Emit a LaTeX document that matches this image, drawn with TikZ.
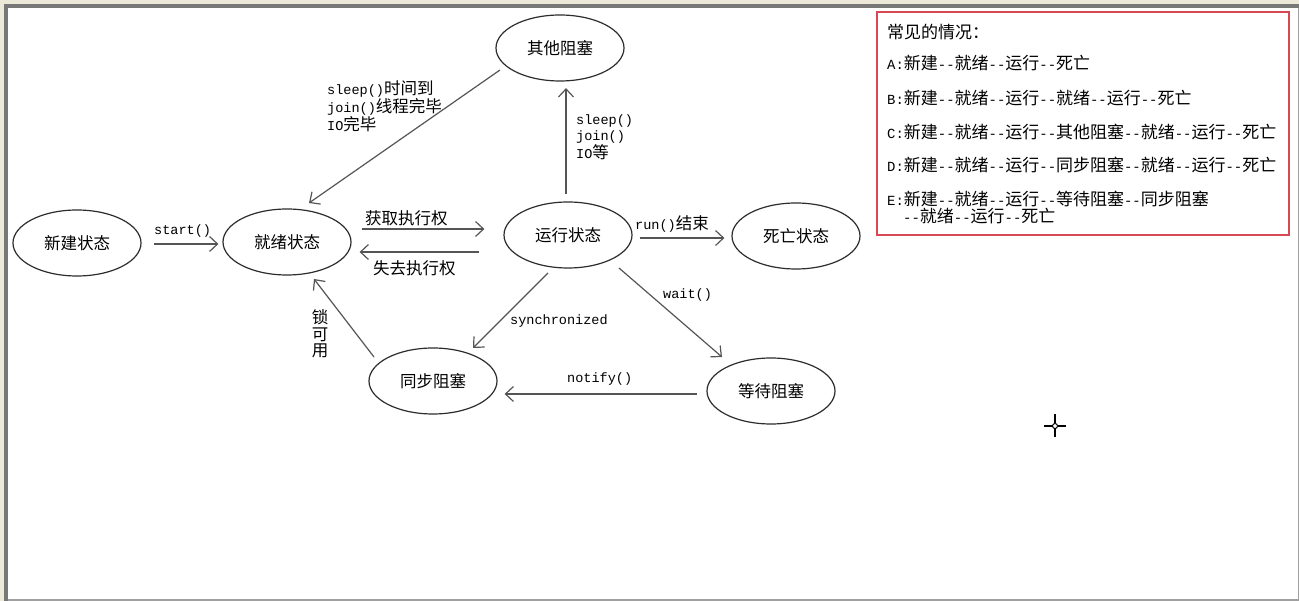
\documentclass[tikz,border=0pt]{standalone}
\usepackage{fontspec}
\setmainfont{Liberation Mono}[Scale=0.82]
\newfontfamily\zhf{Noto Sans CJK SC}
\newcommand\zh[1]{{\zhf #1}}
\newcommand\dsh{-{}-}
\usetikzlibrary{shapes.geometric,arrows.meta,calc}
\definecolor{lineg}{RGB}{85,85,85}
\definecolor{ellg}{RGB}{45,45,45}
\definecolor{boxred}{RGB}{214,72,82}
\definecolor{frameg}{RGB}{120,120,120}
\definecolor{framel}{RGB}{160,160,160}
\definecolor{beigec}{RGB}{236,233,216}
\begin{document}
\begin{tikzpicture}[x=1pt,y=-1pt,
  stnode/.style={ellipse, draw=ellg, line width=1.2pt, minimum width=128pt, minimum height=66pt, inner sep=0pt, font=\fontsize{16.5}{18}\selectfont\zhf},
  arr/.style={draw=lineg, line width=1.2pt, -{Straight Barb[length=8pt,width=15pt,line width=1.2pt]}},
  lbl/.style={inner sep=0pt, font=\fontsize{16.5}{16.5}\selectfont, align=left},
  boxtxt/.style={inner sep=0pt, anchor=west, font=\fontsize{17}{17}\selectfont}
]
\useasboundingbox (0,0) rectangle (1299,601);
% window frame
\fill[white] (0,0) rectangle (1299,601);
\fill[beigec] (0,0) rectangle (1299,4.5);
\fill[beigec] (0,0) rectangle (3.5,601);
\fill[frameg] (3.5,4.5) rectangle (1299,8.5);
\fill[frameg] (3.5,4.5) rectangle (7.5,601);
\fill[framel] (1297.5,8.5) rectangle (1299,601);
\fill[framel] (7.5,598.5) rectangle (1299,601);

% states
\node[stnode] (xj) at (77,243) {新建状态};
\node[stnode] (jx) at (287,242) {就绪状态};
\node[stnode] (yx) at (568,235) {运行状态};
\node[stnode] (qt) at (560,48) {其他阻塞};
\node[stnode] (sw) at (796,236) {死亡状态};
\node[stnode] (tb) at (433,381) {同步阻塞};
\node[stnode] (dd) at (771,391) {等待阻塞};

% connectors
\draw[arr] ($(xj.east)+(12,1)$) -- ($(jx.west)+(-4,2)$);
\draw[arr] ($(jx.east)+(10,-13)$) -- ($(yx.west)+(-19,-6)$);
\draw[arr] ($(yx.west)+(-24,17)$) -- ($(jx.east)+(8,10)$);
\draw[arr] ($(yx.north)+(-2,-7)$) -- ($(qt.south)+(6,6.5)$);
\draw[arr] ($(qt.center)+(-60,22)$) -- ($(jx.center)+(22,-39)$);
\draw[arr] ($(yx.east)+(7,3)$) -- ($(sw.west)+(-7,2)$);
\draw[arr] ($(yx.center)+(-20,38)$) -- ($(tb.center)+(40,-33)$);
\draw[arr] ($(yx.center)+(51,33)$) -- ($(dd.center)+(-49,-34)$);
\draw[arr] ($(dd.west)+(-9,3)$) -- ($(tb.east)+(7,13)$);
\draw[arr] ($(tb.center)+(-59,-24)$) -- ($(jx.center)+(27,37)$);

% labels
\node[lbl, anchor=west] (lstart) at (154,231) {start()};
\node[lbl, anchor=west] (lget) at (365,218) {\zh{获取执行权}};
\node[lbl, anchor=west] (llose) at (373,268) {\zh{失去执行权}};
\node[lbl, anchor=north west] (lback) at (327,81) {sleep()\zh{时间到}\\join()\zh{线程完毕}\\IO\zh{完毕}};
\node[lbl, anchor=north west] (lsleep) at (576,114) {sleep()\\join()\\IO\zh{等}};
\node[lbl, anchor=west] (lrun) at (635,224) {run()\zh{结束}};
\node[lbl, anchor=west] (lsync) at (510,321) {synchronized};
\node[lbl, anchor=west] (lwait) at (663,295) {wait()};
\node[lbl, anchor=west] (lnotify) at (567,379) {notify()};
\node[lbl, align=center, font=\fontsize{16.5}{16.5}\selectfont\zhf] (llock) at (320,334) {锁\\可\\用};

% summary box
\node[draw=boxred, line width=1.3pt, minimum width=412pt, minimum height=223pt, inner sep=0pt] (box) at (1083,123.5) {};
\node[boxtxt] (t0) at (887,32) {\zh{常见的情况：}};
\node[boxtxt] (t1) at (887,63) {A:\zh{新建}\dsh\zh{就绪}\dsh\zh{运行}\dsh\zh{死亡}};
\node[boxtxt] (t2) at (887,98) {B:\zh{新建}\dsh\zh{就绪}\dsh\zh{运行}\dsh\zh{就绪}\dsh\zh{运行}\dsh\zh{死亡}};
\node[boxtxt] (t3) at (887,132) {C:\zh{新建}\dsh\zh{就绪}\dsh\zh{运行}\dsh\zh{其他阻塞}\dsh\zh{就绪}\dsh\zh{运行}\dsh\zh{死亡}};
\node[boxtxt] (t4) at (887,165) {D:\zh{新建}\dsh\zh{就绪}\dsh\zh{运行}\dsh\zh{同步阻塞}\dsh\zh{就绪}\dsh\zh{运行}\dsh\zh{死亡}};
\node[boxtxt] (t5) at (887,199) {E:\zh{新建}\dsh\zh{就绪}\dsh\zh{运行}\dsh\zh{等待阻塞}\dsh\zh{同步阻塞}};
\node[boxtxt] (t6) at (903,216) {\dsh\zh{就绪}\dsh\zh{运行}\dsh\zh{死亡}};

% cursor crosshair
\draw[line width=1.4pt] (1044,426) -- (1052.5,426) (1057.5,426) -- (1066,426)
  (1055,414.5) -- (1055,423.5) (1055,428.5) -- (1055,437.5);
\draw[line width=1pt] (1055,426) circle (2.5pt);
\end{tikzpicture}
\end{document}
